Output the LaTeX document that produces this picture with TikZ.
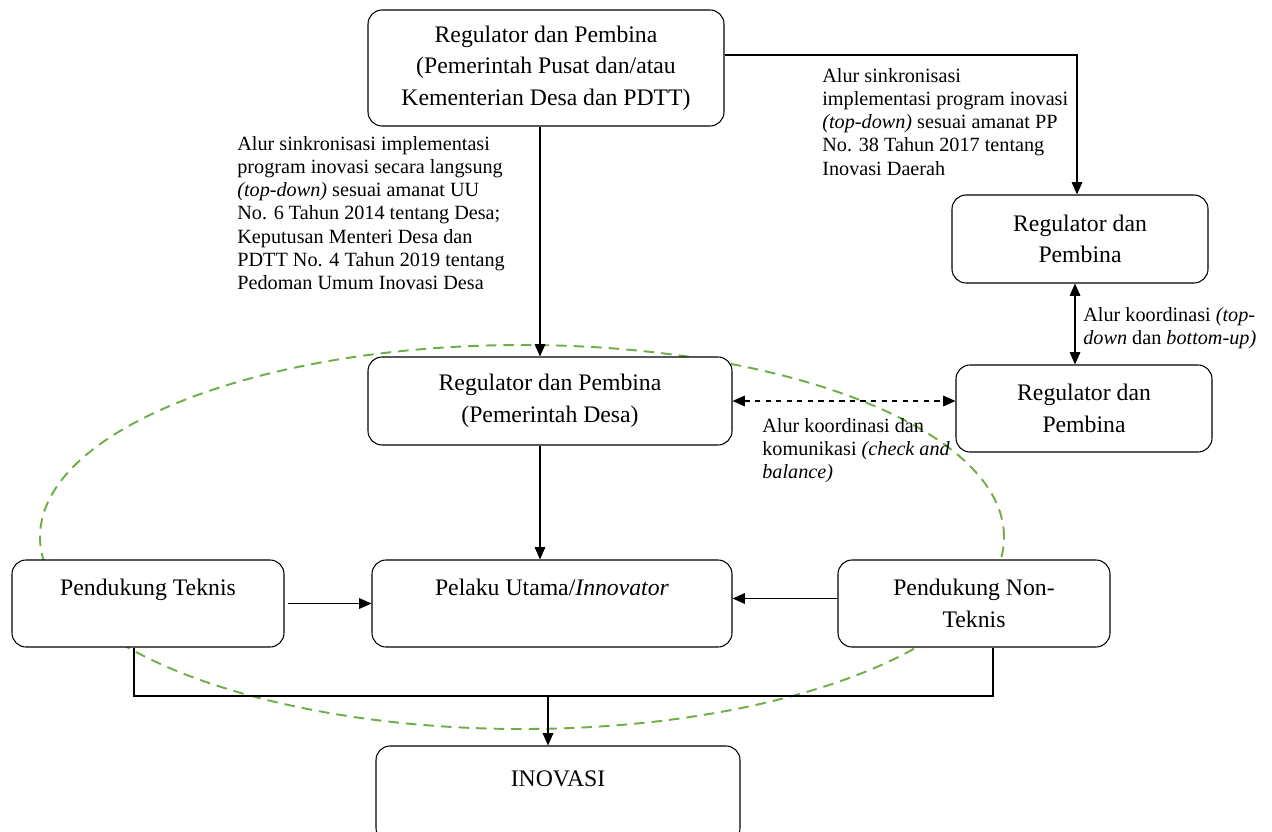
\documentclass[tikz,border=0pt]{standalone}
\usepackage{fontspec}
\setmainfont{Liberation Serif}
\usetikzlibrary{arrows.meta}
\definecolor{ovalgreen}{RGB}{112,173,71}

\begin{document}
\begin{tikzpicture}[
    box/.style={draw, fill=white, line width=0.6pt, rounded corners=8pt, align=center, inner sep=2pt,
        font=\fontsize{13.5}{18}\selectfont},
    note/.style={align=left, anchor=north west, inner sep=0pt,
        font=\fontsize{11.5}{13.2}\selectfont},
    arr/.style={-{Triangle[length=7pt,width=6pt]}, thick},
    darr/.style={{Triangle[length=7pt,width=6pt]}-{Triangle[length=7pt,width=6pt]}, thick}]
    \clip (0,0) rectangle (25.44,-16.64);
    % oval round the village level
    \draw[ovalgreen, dashed, dash pattern=on 6pt off 4pt, line width=1.1pt] (10.44,-10.74) ellipse (9.64 and 3.84);
    % boxes
    \node[box, minimum width=7.12cm, minimum height=2.32cm] (pusat) at (10.92,-1.36)
        {Regulator dan Pembina\\(Pemerintah Pusat dan/atau\\Kementerian Desa dan PDTT)};
    \node[box, minimum width=5.12cm, minimum height=1.76cm] (reg1) at (21.6,-4.78) {Regulator dan\\Pembina};
    \node[box, minimum width=5.12cm, minimum height=1.74cm] (reg2) at (21.68,-8.17) {Regulator dan\\Pembina};
    \node[box, minimum width=7.28cm, minimum height=1.76cm] (desa) at (11.0,-8.02) {Regulator dan Pembina\\(Pemerintah Desa)};
    \node[box, minimum width=7.2cm, minimum height=1.74cm] (pelaku) at (11.04,-12.07) {Pelaku Utama/\textit{Innovator}\\~};
    \node[box, minimum width=5.44cm, minimum height=1.74cm] (teknis) at (2.96,-12.07) {Pendukung Teknis\\~};
    \node[box, minimum width=5.44cm, minimum height=1.74cm] (nonteknis) at (19.48,-12.07) {Pendukung Non-\\Teknis};
    \node[box, minimum width=7.28cm, minimum height=1.92cm] (inovasi) at (11.16,-15.88) {INOVASI\\~};
    % texts on the flows
    \node[note] (notepusat) at (4.74,-2.72) {Alur sinkronisasi implementasi\\program inovasi secara langsung\\\textit{(top-down)} sesuai amanat UU\\No. 6 Tahun 2014 tentang Desa;\\Keputusan Menteri Desa dan\\PDTT No. 4 Tahun 2019 tentang\\Pedoman Umum Inovasi Desa};
    \node[note] (notepp) at (16.44,-1.36) {Alur sinkronisasi\\implementasi program inovasi\\\textit{(top-down)} sesuai amanat PP\\No. 38 Tahun 2017 tentang\\Inovasi Daerah};
    \node[note] (notekoord) at (21.66,-6.14) {Alur koordinasi \textit{(top-}\\\textit{down} dan \textit{bottom-up)}};
    \node[note] (notecheck) at (15.24,-8.36) {Alur koordinasi dan\\komunikasi \textit{(check and}\\\textit{balance)}};
    % flows
    \draw[arr] ([xshift=-0.12cm]pusat.south) -- ([xshift=-0.12cm]pusat.south |- desa.north);
    \draw[arr] ([yshift=0.26cm]pusat.east) -| ([xshift=-0.06cm]reg1.north);
    \draw[darr] ([xshift=-0.1cm]reg1.south) -- ([xshift=-0.1cm]reg1.south |- reg2.north);
    \draw[darr, dashed] (desa.east) -- (desa.east -| reg2.west);
    \draw[arr] ([xshift=-0.2cm]desa.south) -- ([xshift=-0.2cm]desa.south |- pelaku.north);
    \draw[arr] ([xshift=0.06cm]teknis.east) -- (pelaku.west);
    \draw[arr] ([yshift=0.1cm]nonteknis.west) -- ([yshift=0.1cm]pelaku.east);
    \coordinate (busL) at (2.68,-13.92);
    \coordinate (busR) at (19.86,-13.92);
    \draw[thick] (teknis.south -| busL) -- (busL) -- (busR) -- (nonteknis.south -| busR);
    \draw[arr] ([xshift=-0.2cm]inovasi.north |- busL) -- ([xshift=-0.2cm]inovasi.north);
\end{tikzpicture}
\end{document}
